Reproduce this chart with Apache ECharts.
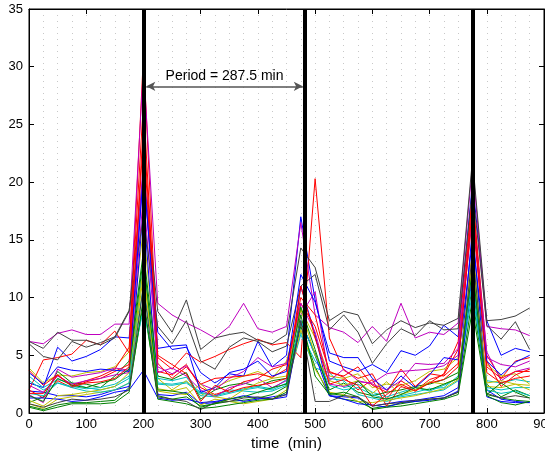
<!DOCTYPE html>
<html>
<head>
<meta charset="utf-8">
<script src="https://cdn.jsdelivr.net/npm/echarts@6/dist/echarts.min.js"></script>
<style>
html, body { margin: 0; padding: 0; background: #fff; }
#chart { width: 545px; height: 453px; }
</style>
</head>
<body>
<div id="chart"></div>
<script>
// sample times (min)
var times = [0, 25, 50, 75, 100, 125, 150, 175, 200, 225, 250, 275, 300, 325, 350, 375, 400, 425,
             450, 475, 500, 525, 550, 575, 600, 625, 650, 675, 700, 725, 750, 775, 800, 825, 850, 875];

// peak markers and period annotation
var peakLines = [200, 482.5, 775];
var periodText = 'Period = 287.5 min';
var arrowY = 28.3;

// matlab colour order
var colorOrder = ['#0000ff', '#008000', '#ff0000', '#00bfbf', '#bf00bf', '#bfbf00', '#404040'];

var s1 = [2.6, 2.2, 5.7, 4.5, 4.9, 5.5, 6.6, 6.5, 20.5, 7.0, 5.5, 5.7, 3.5, 2.6, 3.4, 3.2, 6.2, 4.0, 5.0, 17.0, 9.8, 4.5, 4.0, 3.6, 4.2, 3.5, 5.4, 5.0, 5.8, 7.6, 6.6, 20.0, 8.0, 5.0, 5.6, 5.3];
var s2 = [0.6, 0.3, 0.7, 0.9, 0.9, 1.0, 1.1, 2.2, 9.5, 1.5, 1.2, 1.4, 0.6, 0.8, 1.0, 1.1, 1.3, 1.6, 2.3, 7.5, 4.0, 1.5, 1.2, 1.0, 0.4, 0.6, 0.8, 1.0, 1.2, 1.3, 1.8, 10.0, 1.6, 1.3, 1.1, 1.0];
var s3 = [2.0, 4.6, 4.8, 5.1, 6.3, 5.9, 7.1, 5.2, 31.0, 4.8, 3.8, 5.2, 4.4, 4.9, 5.5, 6.0, 6.4, 5.9, 6.1, 4.8, 20.3, 6.5, 3.7, 3.0, 3.4, 1.2, 2.8, 2.0, 2.6, 3.4, 6.2, 19.0, 5.0, 3.0, 4.5, 4.8];
var s4 = [3.2, 2.2, 2.9, 2.6, 2.2, 2.0, 2.3, 3.0, 11.0, 2.6, 2.5, 2.7, 1.8, 1.5, 2.0, 1.9, 1.8, 1.9, 2.4, 6.8, 3.9, 3.5, 2.2, 2.5, 1.8, 1.4, 1.8, 2.2, 1.9, 2.4, 3.0, 12.5, 2.8, 2.6, 2.9, 2.7];
var s5 = [6.2, 6.0, 6.9, 7.2, 6.8, 6.8, 7.7, 7.7, 30.0, 9.5, 8.5, 7.8, 7.2, 6.5, 7.5, 9.5, 7.3, 7.0, 7.5, 16.5, 8.5, 7.4, 7.0, 6.1, 7.5, 6.2, 9.5, 6.5, 7.0, 6.8, 7.8, 21.5, 7.5, 7.3, 7.2, 6.7];
var s6 = [3.9, 2.6, 3.3, 3.2, 3.5, 3.6, 4.0, 5.3, 16.0, 3.0, 2.0, 2.8, 1.5, 2.2, 2.8, 3.2, 3.6, 3.0, 4.5, 9.0, 6.5, 3.2, 3.0, 3.4, 2.2, 2.5, 2.4, 2.8, 3.6, 3.8, 4.8, 14.0, 4.2, 3.2, 3.4, 2.5];
var s7 = [6.2, 5.6, 7.0, 6.3, 6.3, 5.9, 6.5, 8.8, 21.0, 8.8, 7.0, 9.8, 5.5, 6.5, 6.8, 7.0, 6.3, 6.0, 6.8, 14.3, 12.6, 8.0, 8.8, 8.5, 6.0, 7.2, 8.0, 7.4, 7.8, 7.6, 8.2, 22.0, 8.0, 8.1, 8.4, 9.1];
var s8 = [1.9, 1.8, 1.5, 1.5, 1.4, 1.6, 2.0, 2.3, 18.0, 1.6, 1.5, 1.8, 0.8, 0.9, 1.3, 1.0, 1.2, 1.4, 1.6, 11.0, 6.8, 1.5, 1.4, 1.3, 0.6, 0.8, 1.0, 1.1, 1.3, 1.5, 2.2, 16.0, 2.0, 1.2, 1.0, 0.9];
var s9 = [0.9, 1.4, 3.6, 2.6, 2.5, 2.2, 3.2, 4.5, 14.0, 3.2, 2.9, 3.5, 1.2, 2.0, 2.4, 2.6, 2.3, 2.8, 3.0, 7.8, 5.2, 2.0, 2.6, 1.8, 1.5, 1.8, 2.0, 2.3, 2.5, 2.9, 3.5, 11.0, 2.5, 1.4, 2.0, 1.5];
var s10 = [2.0, 1.3, 2.8, 2.2, 2.7, 3.0, 3.6, 4.2, 24.0, 3.6, 3.3, 4.2, 2.2, 1.6, 2.0, 2.7, 3.0, 3.8, 4.2, 9.5, 7.5, 3.6, 3.1, 2.0, 2.9, 0.6, 2.3, 1.9, 2.9, 3.3, 5.5, 17.0, 4.5, 2.3, 3.3, 3.8];
var s11 = [1.7, 1.5, 2.6, 2.3, 2.1, 2.2, 2.5, 3.2, 9.0, 3.0, 2.8, 3.1, 1.5, 1.4, 1.7, 2.0, 2.2, 2.0, 2.6, 7.0, 4.5, 3.0, 2.8, 1.6, 1.3, 1.0, 1.4, 1.6, 1.8, 2.0, 2.8, 10.5, 2.0, 1.7, 1.9, 1.5];
var s12 = [1.6, 0.9, 3.8, 3.1, 3.3, 3.5, 3.9, 3.7, 19.0, 4.0, 3.4, 4.1, 2.5, 2.0, 3.0, 3.6, 4.8, 4.0, 4.3, 8.5, 10.5, 2.8, 3.8, 2.8, 2.5, 2.0, 2.8, 4.3, 4.2, 4.3, 5.6, 18.0, 5.3, 2.8, 3.6, 3.9];
var s13 = [0.8, 0.4, 1.2, 1.4, 1.6, 1.8, 2.0, 2.6, 12.0, 2.1, 1.9, 2.2, 0.7, 1.2, 1.0, 0.8, 1.0, 1.2, 2.0, 7.2, 3.8, 1.8, 1.6, 1.0, 0.9, 1.1, 1.3, 1.5, 1.8, 2.1, 2.9, 13.0, 2.3, 2.2, 2.5, 2.4];
var s14 = [6.0, 4.9, 4.6, 6.2, 5.7, 6.1, 6.6, 8.9, 17.0, 7.5, 6.0, 8.0, 4.5, 3.8, 5.7, 6.5, 6.2, 5.3, 5.8, 11.0, 12.0, 7.2, 8.5, 7.0, 4.3, 6.0, 7.3, 6.7, 8.0, 7.2, 7.3, 19.5, 7.6, 6.4, 7.9, 5.5];
var s15 = [1.3, 1.3, 1.2, 1.0, 1.1, 1.4, 1.8, 2.0, 3.7, 1.3, 1.1, 1.2, 0.9, 1.0, 1.2, 1.5, 1.3, 1.2, 1.4, 8.0, 5.0, 1.5, 1.2, 0.8, 0.7, 0.5, 0.9, 1.0, 1.1, 1.3, 1.9, 12.0, 1.4, 1.0, 0.9, 0.9];
var s16 = [0.5, 0.2, 0.5, 0.8, 0.8, 0.8, 0.9, 1.8, 10.0, 1.2, 1.0, 0.8, 0.4, 0.5, 0.7, 0.9, 1.1, 1.2, 1.8, 8.5, 3.2, 1.6, 1.8, 1.4, 0.3, 0.5, 0.6, 0.8, 1.0, 1.2, 1.6, 9.0, 1.5, 0.9, 0.7, 1.0];
var s17 = [3.7, 2.4, 3.3, 2.4, 2.8, 3.2, 3.8, 5.7, 27.0, 4.3, 3.0, 4.0, 2.5, 3.0, 3.1, 3.2, 3.4, 3.1, 3.8, 10.0, 8.5, 3.5, 3.2, 4.0, 2.4, 1.8, 3.8, 2.3, 3.4, 3.2, 4.3, 19.0, 4.0, 3.0, 3.6, 3.6];
var s18 = [2.8, 2.0, 2.6, 2.2, 1.9, 1.8, 2.0, 2.6, 13.0, 2.5, 2.4, 2.6, 1.7, 1.5, 1.8, 2.1, 2.3, 2.1, 2.9, 8.0, 5.0, 2.4, 2.0, 2.2, 1.6, 1.2, 1.5, 1.8, 2.1, 2.2, 3.2, 11.5, 2.2, 2.0, 2.2, 2.2];
var s19 = [2.4, 1.8, 3.2, 2.5, 2.8, 3.0, 3.3, 3.5, 22.0, 3.5, 3.9, 3.2, 2.0, 1.4, 2.2, 2.5, 3.0, 2.2, 2.8, 9.5, 7.0, 2.5, 2.3, 2.7, 2.6, 3.4, 3.6, 3.7, 3.8, 4.1, 5.0, 17.5, 4.8, 4.2, 4.0, 4.5];
var s20 = [1.1, 0.6, 1.5, 1.6, 1.8, 2.0, 2.3, 3.5, 12.5, 1.9, 1.7, 1.6, 2.5, 1.4, 1.2, 2.0, 2.6, 3.0, 3.2, 9.0, 5.0, 2.8, 2.4, 2.8, 1.7, 2.7, 1.6, 2.0, 2.7, 2.5, 3.0, 13.5, 2.6, 2.8, 2.5, 2.0];
var s21 = [0.8, 0.5, 0.9, 1.2, 1.1, 1.2, 1.4, 2.0, 11.0, 1.4, 1.2, 1.0, 0.3, 0.9, 1.0, 1.3, 1.4, 1.2, 1.6, 8.0, 1.0, 1.0, 1.5, 1.4, 0.6, 0.8, 0.9, 1.1, 1.2, 1.3, 1.8, 14.0, 1.7, 1.3, 1.5, 1.3];
var s22 = [3.5, 2.5, 4.0, 3.7, 3.6, 3.8, 3.7, 3.6, 21.0, 5.6, 5.8, 5.9, 1.8, 2.2, 3.5, 3.8, 4.5, 3.2, 3.6, 12.0, 9.6, 5.2, 4.8, 4.8, 3.0, 2.0, 3.2, 2.2, 3.3, 4.8, 4.6, 15.0, 4.5, 3.3, 4.4, 5.0];
var s23 = [1.5, 1.0, 3.0, 2.4, 2.2, 2.6, 2.9, 3.8, 13.5, 2.0, 1.9, 1.7, 0.5, 0.8, 1.2, 1.4, 1.8, 2.2, 2.5, 9.2, 5.5, 1.7, 1.5, 2.8, 1.4, 1.2, 1.6, 2.2, 2.0, 2.5, 3.0, 12.5, 1.6, 2.6, 1.8, 1.3];
var s24 = [1.7, 1.7, 3.3, 2.3, 2.6, 2.7, 3.0, 4.0, 25.0, 5.0, 4.2, 3.4, 1.0, 2.4, 1.8, 2.2, 2.4, 2.6, 3.0, 11.0, 6.5, 2.5, 2.9, 2.4, 0.6, 1.6, 2.5, 1.9, 2.6, 2.9, 4.0, 18.0, 3.5, 2.6, 3.0, 3.2];

var allSeries = [s1, s2, s3, s4, s5, s6, s7, s8, s9, s10, s11, s12,
                 s13, s14, s15, s16, s17, s18, s19, s20, s21, s22, s23, s24];

var font = "'Liberation Sans', Arial, Helvetica, sans-serif";

var chart = echarts.init(document.getElementById('chart'));

var series = allSeries.map(function (vals, i) {
    return {
        type: 'line',
        data: vals.map(function (v, j) { return [times[j], v]; }),
        showSymbol: false,
        symbol: 'none',
        silent: true,
        z: 2,
        lineStyle: { width: 1, color: colorOrder[i % colorOrder.length] }
    };
});

// thick black markers + period arrow
series.push({
    type: 'line',
    data: [],
    silent: true,
    z: 5,
    markLine: {
        silent: true,
        symbol: 'none',
        animation: false,
        label: { show: false },
        lineStyle: { color: '#000', width: 4, type: 'solid' },
        data: peakLines.map(function (x) { return { xAxis: x }; })
    }
});
series.push({
    type: 'line',
    data: [],
    silent: true,
    z: 6,
    markLine: {
        silent: true,
        animation: false,
        symbol: ['arrow', 'arrow'],
        symbolSize: [7, 9],
        lineStyle: { color: '#555', width: 1.5, type: 'solid' },
        label: {
            show: true,
            position: 'insideMiddleTop',
            distance: 3,
            formatter: periodText,
            color: '#000',
            fontSize: 14,
            fontFamily: font
        },
        data: [[{ coord: [205, arrowY] }, { coord: [peakLines[1] - 4, arrowY] }]]
    }
});

// a frame axis: black line, inward ticks, no labels
function frameAxis(pos, min, max, interval) {
    return {
        type: 'value', min: min, max: max, interval: interval,
        position: pos, z: 10,
        axisLine: { show: true, onZero: false, lineStyle: { color: '#000' } },
        axisTick: { show: true, inside: true, length: 5, lineStyle: { color: '#000' } },
        axisLabel: { show: false },
        splitLine: { show: false }
    };
}

var xMain = frameAxis('bottom', 0, 900, 100);
xMain.name = 'time  (min)';
xMain.nameLocation = 'middle';
xMain.nameGap = 17;
xMain.nameTextStyle = { fontSize: 15, color: '#000', fontFamily: font };
xMain.axisLabel = { show: true, color: '#000', fontSize: 13, fontFamily: font, margin: 5, showMaxLabel: true };

var yMain = frameAxis('left', 0, 35, 5);
yMain.axisLabel = { show: true, color: '#000', fontSize: 13, fontFamily: font, margin: 6 };

chart.setOption({
    animation: false,
    backgroundColor: '#fff',
    grid: {
        left: 29,
        right: 1,
        top: 9,
        bottom: 40,
        outerBoundsMode: 'none',
        containLabel: false,
        show: true,
        borderColor: '#000',
        borderWidth: 1
    },
    xAxis: [xMain, frameAxis('top', 0, 900, 100), {
        // dotted grid at each sample time
        type: 'value',
        min: 0,
        max: 900,
        interval: 25,
        position: 'top',
        axisLine: { show: false, onZero: false },
        axisTick: { show: false },
        axisLabel: { show: false },
        splitLine: { show: true, lineStyle: { color: '#c8c8c8', width: 1, type: [1, 5] } }
    }],
    yAxis: [yMain, frameAxis('right', 0, 35, 5)],
    series: series
});
</script>
</body>
</html>
